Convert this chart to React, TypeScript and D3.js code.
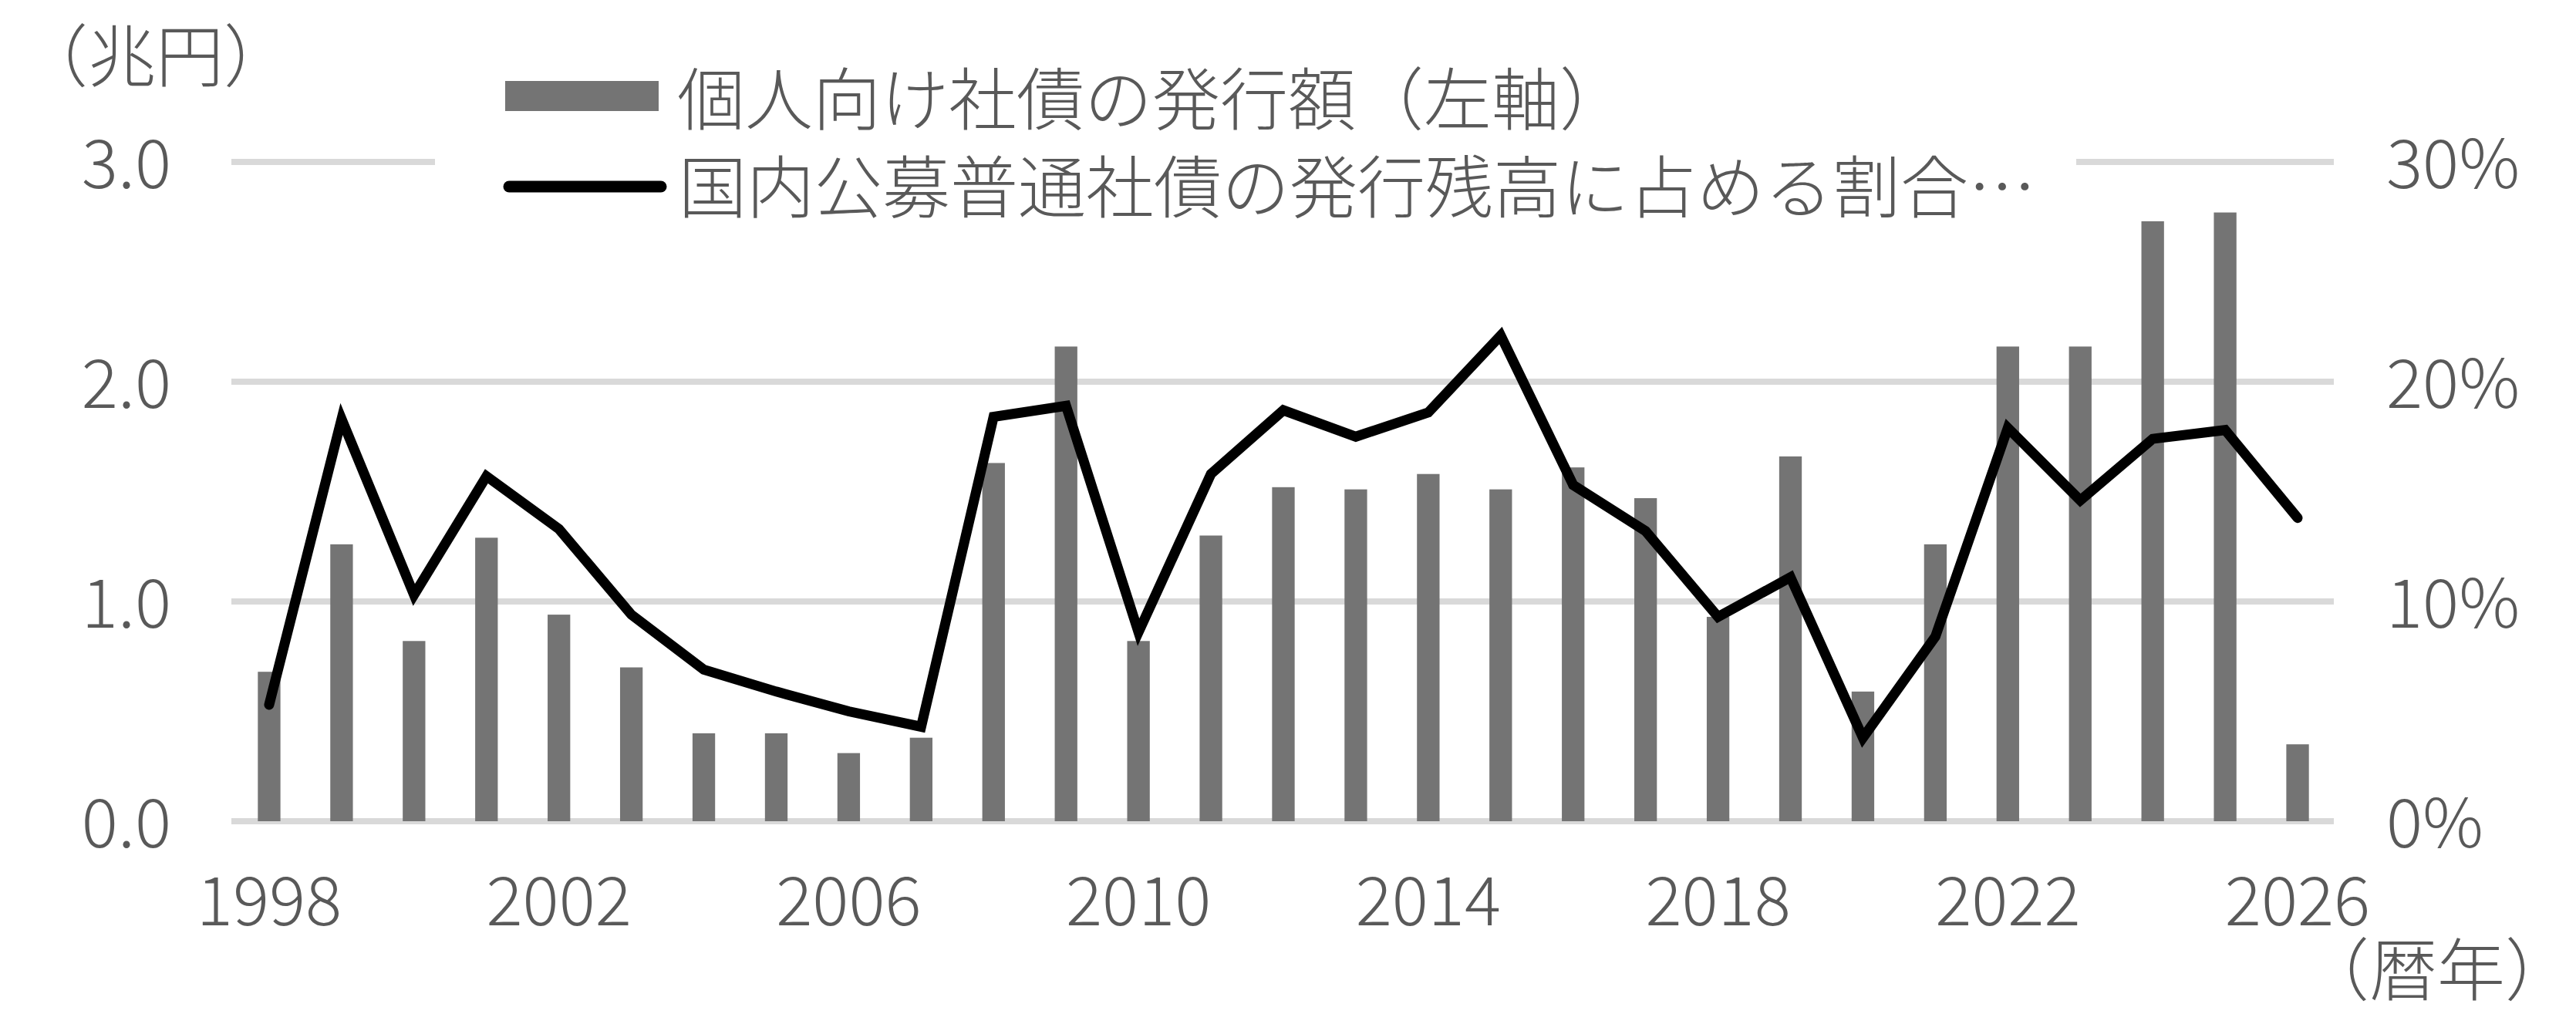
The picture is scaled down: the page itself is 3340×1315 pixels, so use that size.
import * as d3 from "d3";

// categories (calendar year)
const years = [
  "1998", "1999", "2000", "2001", "2002", "2003", "2004", "2005", "2006", "2007",
  "2008", "2009", "2010", "2011", "2012", "2013", "2014", "2015", "2016", "2017",
  "2018", "2019", "2020", "2021", "2022", "2023", "2024", "2025", "2026",
];

// 個人向け社債の発行額 (兆円, left axis)
const retailIssuance = [
  0.68, 1.26, 0.82, 1.29, 0.94, 0.7, 0.4, 0.4, 0.31, 0.38,
  1.63, 2.16, 0.82, 1.3, 1.52, 1.51, 1.58, 1.51, 1.61, 1.47,
  0.93, 1.66, 0.59, 1.26, 2.16, 2.16, 2.73, 2.77, 0.35,
];

// 国内公募普通社債の発行残高に占める割合 (%, right axis)
const shareOfOutstanding = [
  5.3, 18.3, 10.3, 15.7, 13.3, 9.4, 6.9, 5.9, 5.0, 4.3,
  18.4, 18.9, 8.6, 15.8, 18.7, 17.5, 18.6, 22.1, 15.3, 13.2,
  9.3, 11.1, 3.8, 8.4, 17.9, 14.6, 17.4, 17.8, 13.8,
];

const leftTicks = [0, 1, 2, 3];
const rightTicks = [0, 10, 20, 30];
const xTickLabels = ["1998", "2002", "2006", "2010", "2014", "2018", "2022", "2026"];

const legendLabels = [
  "個人向け社債の発行額（左軸）",
  "国内公募普通社債の発行残高に占める割合…",
];

const W = 3340;
const H = 1315;
const plot = { left: 302, right: 3026, top: 210, bottom: 1065 };
const FONT = "'Noto Sans CJK JP', 'Noto Sans', sans-serif";
const TEXT = "#595959";
const FS = 88;

export default function App() {
  const x = d3
    .scaleBand<string>()
    .domain(years)
    .range([plot.left, plot.right])
    .paddingInner(0.688)
    .paddingOuter(0.344);

  const yLeft = d3.scaleLinear().domain([0, 3]).range([plot.bottom, plot.top]);
  const yRight = d3.scaleLinear().domain([0, 30]).range([plot.bottom, plot.top]);

  const cx = (yr: string) => (x(yr) ?? 0) + x.bandwidth() / 2;

  const line = d3
    .line<number>()
    .x((_, i) => cx(years[i]))
    .y((d) => yRight(d));

  return (
    <>
      <style>{"body{margin:0}"}</style>
      <svg width={W} height={H} style={{ display: "block", background: "#fff" }}>
        <g fontFamily={FONT} fontWeight={200} fill={TEXT} fontSize={FS}>
          {/* gridlines */}
          {leftTicks.map((t) => (
            <line
              key={"g" + t}
              x1={plot.left - 2}
              x2={plot.right}
              y1={yLeft(t)}
              y2={yLeft(t)}
              stroke="#d9d9d9"
              strokeWidth={8}
            />
          ))}

          {/* bars */}
          {retailIssuance.map((v, i) => (
            <rect
              key={"b" + i}
              x={x(years[i])}
              y={yLeft(v)}
              width={x.bandwidth()}
              height={yLeft(0) - yLeft(v)}
              fill="#747474"
            />
          ))}

          {/* line */}
          <path
            d={line(shareOfOutstanding) ?? ""}
            fill="none"
            stroke="#000"
            strokeWidth={13}
            strokeLinejoin="miter"
            strokeLinecap="round"
          />

          {/* left axis labels */}
          {leftTicks.map((t) => (
            <text key={"l" + t} x={222} y={yLeft(t) + 34} textAnchor="end">
              {d3.format(".1f")(t)}
            </text>
          ))}

          {/* right axis labels */}
          {rightTicks.map((t) => (
            <text key={"r" + t} x={3094} y={yRight(t) + 34} textAnchor="start">
              {t + "%"}
            </text>
          ))}

          {/* x axis labels */}
          {xTickLabels.map((yr) => (
            <text key={"x" + yr} x={cx(yr)} y={1200} textAnchor="middle">
              {yr}
            </text>
          ))}

          {/* axis unit labels */}
          <text x={26} y={105}>（兆円）</text>
          <text x={3336} y={1290} textAnchor="end">（暦年）</text>

          {/* legend */}
          <rect x={564} y={75} width={2128} height={230} fill="#fff" />
          <rect x={655} y={105} width={199} height={39} fill="#747474" />
          <text x={878} y={161}>{legendLabels[0]}</text>
          <line
            x1={660}
            x2={857}
            y1={242}
            y2={242}
            stroke="#000"
            strokeWidth={15}
            strokeLinecap="round"
          />
          <text x={880} y={275}>{legendLabels[1]}</text>
        </g>
      </svg>
    </>
  );
}
